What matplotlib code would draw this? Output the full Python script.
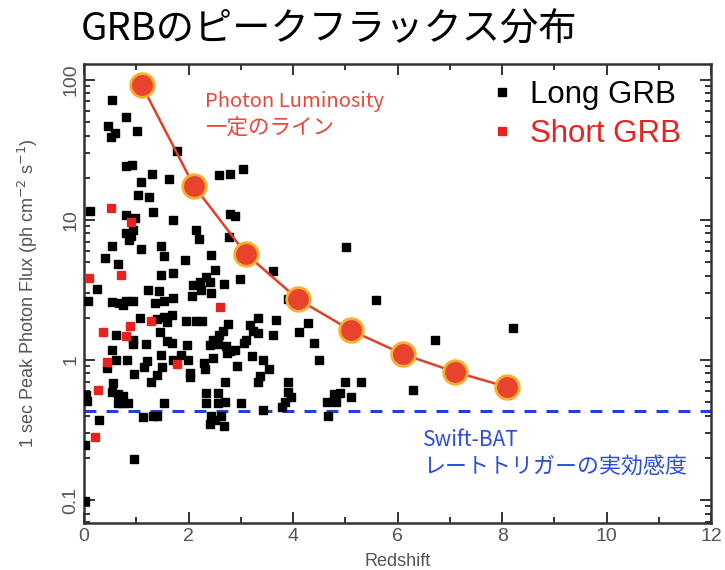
import numpy as np
import matplotlib
matplotlib.use("Agg")
import matplotlib.pyplot as plt
from matplotlib.ticker import LogLocator, MultipleLocator, FixedLocator, NullFormatter
from matplotlib.lines import Line2D

plt.rcParams['font.family'] = ['Liberation Sans', 'DejaVu Sans']
JP = ['Noto Sans CJK JP', 'DejaVu Sans']

# Long GRB: redshift / 1 sec peak photon flux
long_z = [0.53, 0.80, 0.46, 0.59, 0.52, 1.01, 1.77, 0.80, 0.91, 1.29,
          1.63, 1.08, 2.59, 2.80, 3.04, 1.04, 1.25, 0.11, 0.80, 0.97,
          1.31, 2.80, 2.89, 1.71, 0.80, 0.93, 0.85, 0.90, 2.14, 2.20,
          2.78, 0.53, 1.08, 1.48, 1.53, 5.01, 0.40, 0.64, 1.93, 2.42,
          3.61, 2.50, 1.48, 1.70, 2.99, 0.24, 1.23, 1.44, 2.09, 2.22,
          2.34, 2.40, 2.24, 2.42, 2.68, 0.07, 0.53, 0.67, 0.80, 0.93,
          0.74, 1.36, 1.53, 1.70, 2.06, 3.90, 5.59, 1.07, 1.39, 1.58,
          1.68, 1.52, 1.95, 2.15, 2.25, 2.75, 2.65, 2.58, 3.33, 3.17,
          3.24, 3.33, 3.68, 3.61, 4.28, 4.11, 0.61, 1.45, 0.94, 0.93,
          1.18, 1.59, 1.69, 1.96, 2.41, 2.47, 2.57, 2.71, 2.79, 2.89,
          3.06, 3.10, 4.40, 0.53, 0.44, 0.61, 0.83, 0.96, 1.15, 1.21,
          1.28, 1.39, 1.49, 1.47, 1.71, 1.85, 1.99, 2.02, 2.03, 2.30,
          2.32, 2.47, 2.73, 2.93, 3.22, 3.42, 3.54, 3.36, 3.33, 4.50,
          2.69, 0.04, 0.56, 0.53, 0.65, 0.75, 0.65, 0.73, 0.84, 1.52,
          2.33, 2.34, 2.57, 2.57, 2.69, 3.01, 3.43, 3.78, 3.84, 3.90,
          3.90, 3.96, 4.65, 4.78, 4.90, 4.82, 5.00, 5.11, 5.30, 0.29,
          1.12, 1.32, 1.40, 2.43, 2.41, 2.50, 2.62, 2.68, 4.67, 0.01,
          0.96, 0.02, 8.20, 6.71, 6.29, 0.06]
long_flux = [72, 54, 47, 42, 39, 43, 31, 24.3, 24.6, 21.2,
             19.7, 18.5, 21, 21.3, 23.1, 15.1, 14.5, 11.5, 10.9, 10.3,
             11.3, 11.0, 10.7, 10.0, 8.1, 8.4, 7.2, 7.7, 8.4, 7.3,
             7.6, 6.5, 6.2, 6.5, 5.5, 6.4, 5.3, 4.85, 5.2, 5.6,
             4.3, 4.4, 4.05, 4.2, 3.8, 3.2, 3.16, 3.1, 3.4, 3.6,
             3.9, 3.6, 3.16, 3.0, 3.5, 2.64, 2.6, 2.55, 2.65, 2.65,
             2.47, 2.55, 2.64, 2.75, 2.87, 2.7, 2.66, 1.98, 1.95, 1.88,
             2.1, 2.04, 1.91, 1.91, 1.91, 1.79, 1.6, 1.51, 1.99, 1.78,
             1.61, 1.55, 1.93, 1.5, 1.83, 1.59, 1.5, 1.59, 1.39, 1.29,
             1.30, 1.37, 1.33, 1.28, 1.28, 1.39, 1.29, 1.26, 1.15, 1.18,
             1.32, 1.39, 1.33, 1.17, 0.87, 1.0, 1.0, 0.79, 0.89, 0.98,
             0.70, 0.78, 0.89, 1.09, 1.0, 1.09, 1.0, 0.80, 0.76, 0.95,
             0.86, 1.03, 1.12, 0.90, 1.07, 1.0, 0.86, 0.77, 0.69, 1.0,
             0.69, 0.56, 0.68, 0.59, 0.57, 0.55, 0.49, 0.49, 0.49, 0.49,
             0.58, 0.49, 0.58, 0.49, 0.50, 0.49, 0.44, 0.46, 0.50, 0.69,
             0.59, 0.54, 0.50, 0.57, 0.58, 0.50, 0.69, 0.54, 0.70, 0.37,
             0.39, 0.40, 0.40, 0.40, 0.35, 0.37, 0.40, 0.335, 0.40, 0.245,
             0.196, 0.099, 1.68, 1.38, 0.61, 0.51]

# Short GRB
short_z = [0.52, 0.89, 0.10, 0.70, 2.60, 0.36, 0.88, 0.81, 1.28, 0.43,
           1.77, 0.27, 0.20]
short_flux = [12.2, 9.7, 3.85, 4.05, 2.4, 1.59, 1.75, 1.48, 1.89, 0.97,
              0.93, 0.61, 0.28]

# constant photon luminosity line
lum_z = [1.1, 2.1, 3.1, 4.1, 5.1, 6.1, 7.1, 8.1]
lum_flux = [92, 17.5, 5.7, 2.7, 1.63, 1.1, 0.82, 0.64]

# Swift-BAT rate trigger sensitivity
bat_limit = 0.43

fig = plt.figure(figsize=(7.25, 5.7), dpi=100)
ax = fig.add_axes([0.116, 0.0825, 0.865, 0.8055])

ax.plot(long_z, long_flux, 's', color='black', ms=5.5, ls='none', zorder=3)
ax.plot(short_z, short_flux, 's', color='#e8231f', ms=5.5, ls='none', zorder=3)
ax.axhline(bat_limit, color='#2141d9', lw=2.2, ls=(0, (3.9, 3.3)), zorder=2)
ax.plot(lum_z, lum_flux, '-', color='#e0402a', lw=1.8, zorder=4)
ax.plot(lum_z, lum_flux, 'o', ms=17, mfc='#e8432c', mec='#f6b030', mew=2,
        ls='none', zorder=5)

ax.set_yscale('log')
ax.set_xlim(0, 12)
ax.set_ylim(0.0685, 130)

ax.xaxis.set_major_locator(MultipleLocator(2))
ax.xaxis.set_minor_locator(MultipleLocator(1))
ax.yaxis.set_major_locator(FixedLocator([0.1, 1, 10, 100]))
ax.yaxis.set_minor_locator(LogLocator(base=10, subs=np.arange(2, 10)))
ax.yaxis.set_minor_formatter(NullFormatter())
ax.set_yticklabels(['0.1', '1', '10', '100'])
ax.tick_params(which='both', direction='in', top=True, right=True,
               colors='#333333', labelcolor='#555555', labelsize=14, width=1.4)
ax.tick_params(which='major', length=8)
ax.tick_params(which='minor', length=4)
for lab in ax.get_yticklabels():
    lab.set_rotation(90)
    lab.set_va('center')
for sp in ax.spines.values():
    sp.set_color('#333333')
    sp.set_linewidth(1.8)

ax.set_xlabel('Redshift', fontsize=13, color='#555555', labelpad=6)
ax.set_ylabel('1 sec Peak Photon Flux (ph cm$^{-2}$ s$^{-1}$)', fontsize=13,
              color='#555555', labelpad=16)

handles = [Line2D([], [], marker='s', color='black', ls='none', ms=5.5),
           Line2D([], [], marker='s', color='#e8231f', ls='none', ms=5.5)]
leg = ax.legend(handles, ['Long GRB', 'Short GRB'], loc='upper left',
                bbox_to_anchor=(0.652, 0.965), frameon=False, fontsize=22.5,
                handlelength=0.6, handletextpad=0.6, labelspacing=0.3,
                borderpad=0, borderaxespad=0)
leg.get_texts()[1].set_color('#e8231f')

ax.text(0.193, 0.919, 'Photon Luminosity', transform=ax.transAxes,
        fontsize=14.5, color='#e8473d', family=JP, va='center')
ax.text(0.193, 0.861, '一定のライン', transform=ax.transAxes,
        fontsize=15.5, color='#e8473d', family=JP, va='center')
ax.text(0.541, 0.181, 'Swift-BAT', transform=ax.transAxes,
        fontsize=15, color='#2b4fd8', family=JP, va='center')
ax.text(0.541, 0.122, 'レートトリガーの実効感度', transform=ax.transAxes,
        fontsize=15.8, color='#2b4fd8', family=JP, va='center')

fig.text(0.112, 0.947, 'GRBのピークフラックス分布', fontsize=27.5,
         family=JP, color='black', va='center')

fig.savefig('out.png', dpi=100)
